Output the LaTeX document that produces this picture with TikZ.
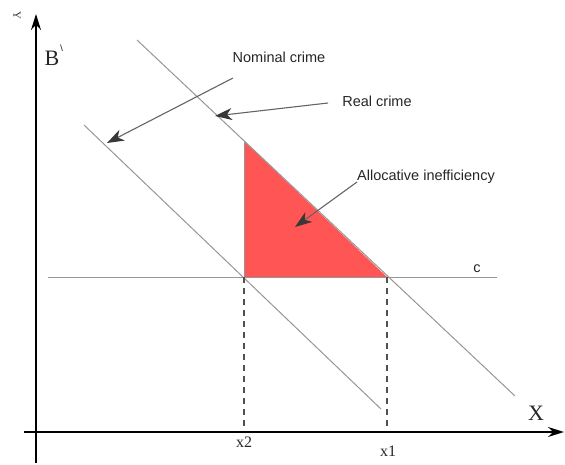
\documentclass[tikz,border=0pt]{standalone}
\usepackage{fontspec}
\setmainfont{Liberation Serif}
\setsansfont{Liberation Sans}
\usetikzlibrary{arrows.meta}
\definecolor{ineff}{RGB}{255,85,85}
\definecolor{lgray}{RGB}{150,150,150}
\definecolor{agray}{RGB}{100,100,100}
\tikzset{
  axis/.style={line width=1.4pt,draw=black,-{Stealth[length=16pt,width=10pt]}},
  curve/.style={line width=1pt,draw=lgray},
  guide/.style={line width=1.4pt,draw=agray!80!black,dash pattern=on 6pt off 5pt},
  note/.style={line width=1.1pt,draw=agray,-{Stealth[length=17pt,width=12pt,inset=5pt,color=black!78]}},
  lab/.style={font=\sffamily\fontsize{14.5}{16}\selectfont,text=black!85,inner sep=0pt},
  slab/.style={font=\rmfamily\fontsize{16}{18}\selectfont,text=black!85,inner sep=0pt},
  blab/.style={font=\rmfamily\fontsize{22}{24}\selectfont,text=black!85,inner sep=0pt},
}
\begin{document}
\begin{tikzpicture}[x=1pt,y=-1pt]
\useasboundingbox (0,0) rectangle (565,465);
% triangle
\coordinate (T1) at (244,141);
\coordinate (T2) at (244,277);
\coordinate (T3) at (387,277);
\fill[ineff] (T1) -- (T2) -- (T3) -- cycle;
\draw[curve] (T1) -- (T2);
% lines
\coordinate (R1) at (137,40);
\coordinate (R2) at (515,396);
\coordinate (N1) at (84,125);
\coordinate (N2) at (381,409);
\coordinate (C1) at (48,277);
\coordinate (C2) at (497,277);
\draw[curve] (R1) -- (R2);
\draw[curve] (N1) -- (N2);
\draw[curve] (C1) -- (C2);
% dashed guides
\coordinate (D2) at (244,432);
\coordinate (D1) at (387,432);
\draw[guide] (T2) -- (D2);
\draw[guide] (T3) -- (D1);
% axes
\coordinate (O1) at (36,463);
\coordinate (YT) at (36,14);
\coordinate (O2) at (24,432);
\coordinate (XT) at (564,432);
\draw[axis] (O1) -- (YT);
\draw[axis] (O2) -- (XT);
% labels
\node[blab] (B) at (52,58) {B};
\draw[line width=0.8pt,black!70] (60.5,44.5) -- (62.5,51);
\node[blab] (X) at (536,413) {X};
\node[slab] (x2) at (244,442) {x2};
\node[slab] (x1) at (388,451) {x1};
\node[font=\rmfamily\fontsize{11}{12}\selectfont,text=black!80,rotate=-90,inner sep=0pt] (Y) at (17,15) {Y};
\node[lab] (c) at (477,269) {c};
\node[lab] (nom) at (279,57) {Nominal crime};
\node[lab] (real) at (377,101) {Real crime};
\node[lab] (alloc) at (426,177) {Allocative inefficiency};
% annotation arrows
\coordinate (nS) at (233,78);
\coordinate (nE) at (107,143);
\coordinate (rS) at (328,103);
\coordinate (rE) at (215,116);
\coordinate (aS) at (357,182);
\coordinate (aE) at (295,227);
\draw[note] (nS) -- (nE);
\draw[note] (rS) -- (rE);
\draw[note] (aS) -- (aE);
\end{tikzpicture}
\end{document}
